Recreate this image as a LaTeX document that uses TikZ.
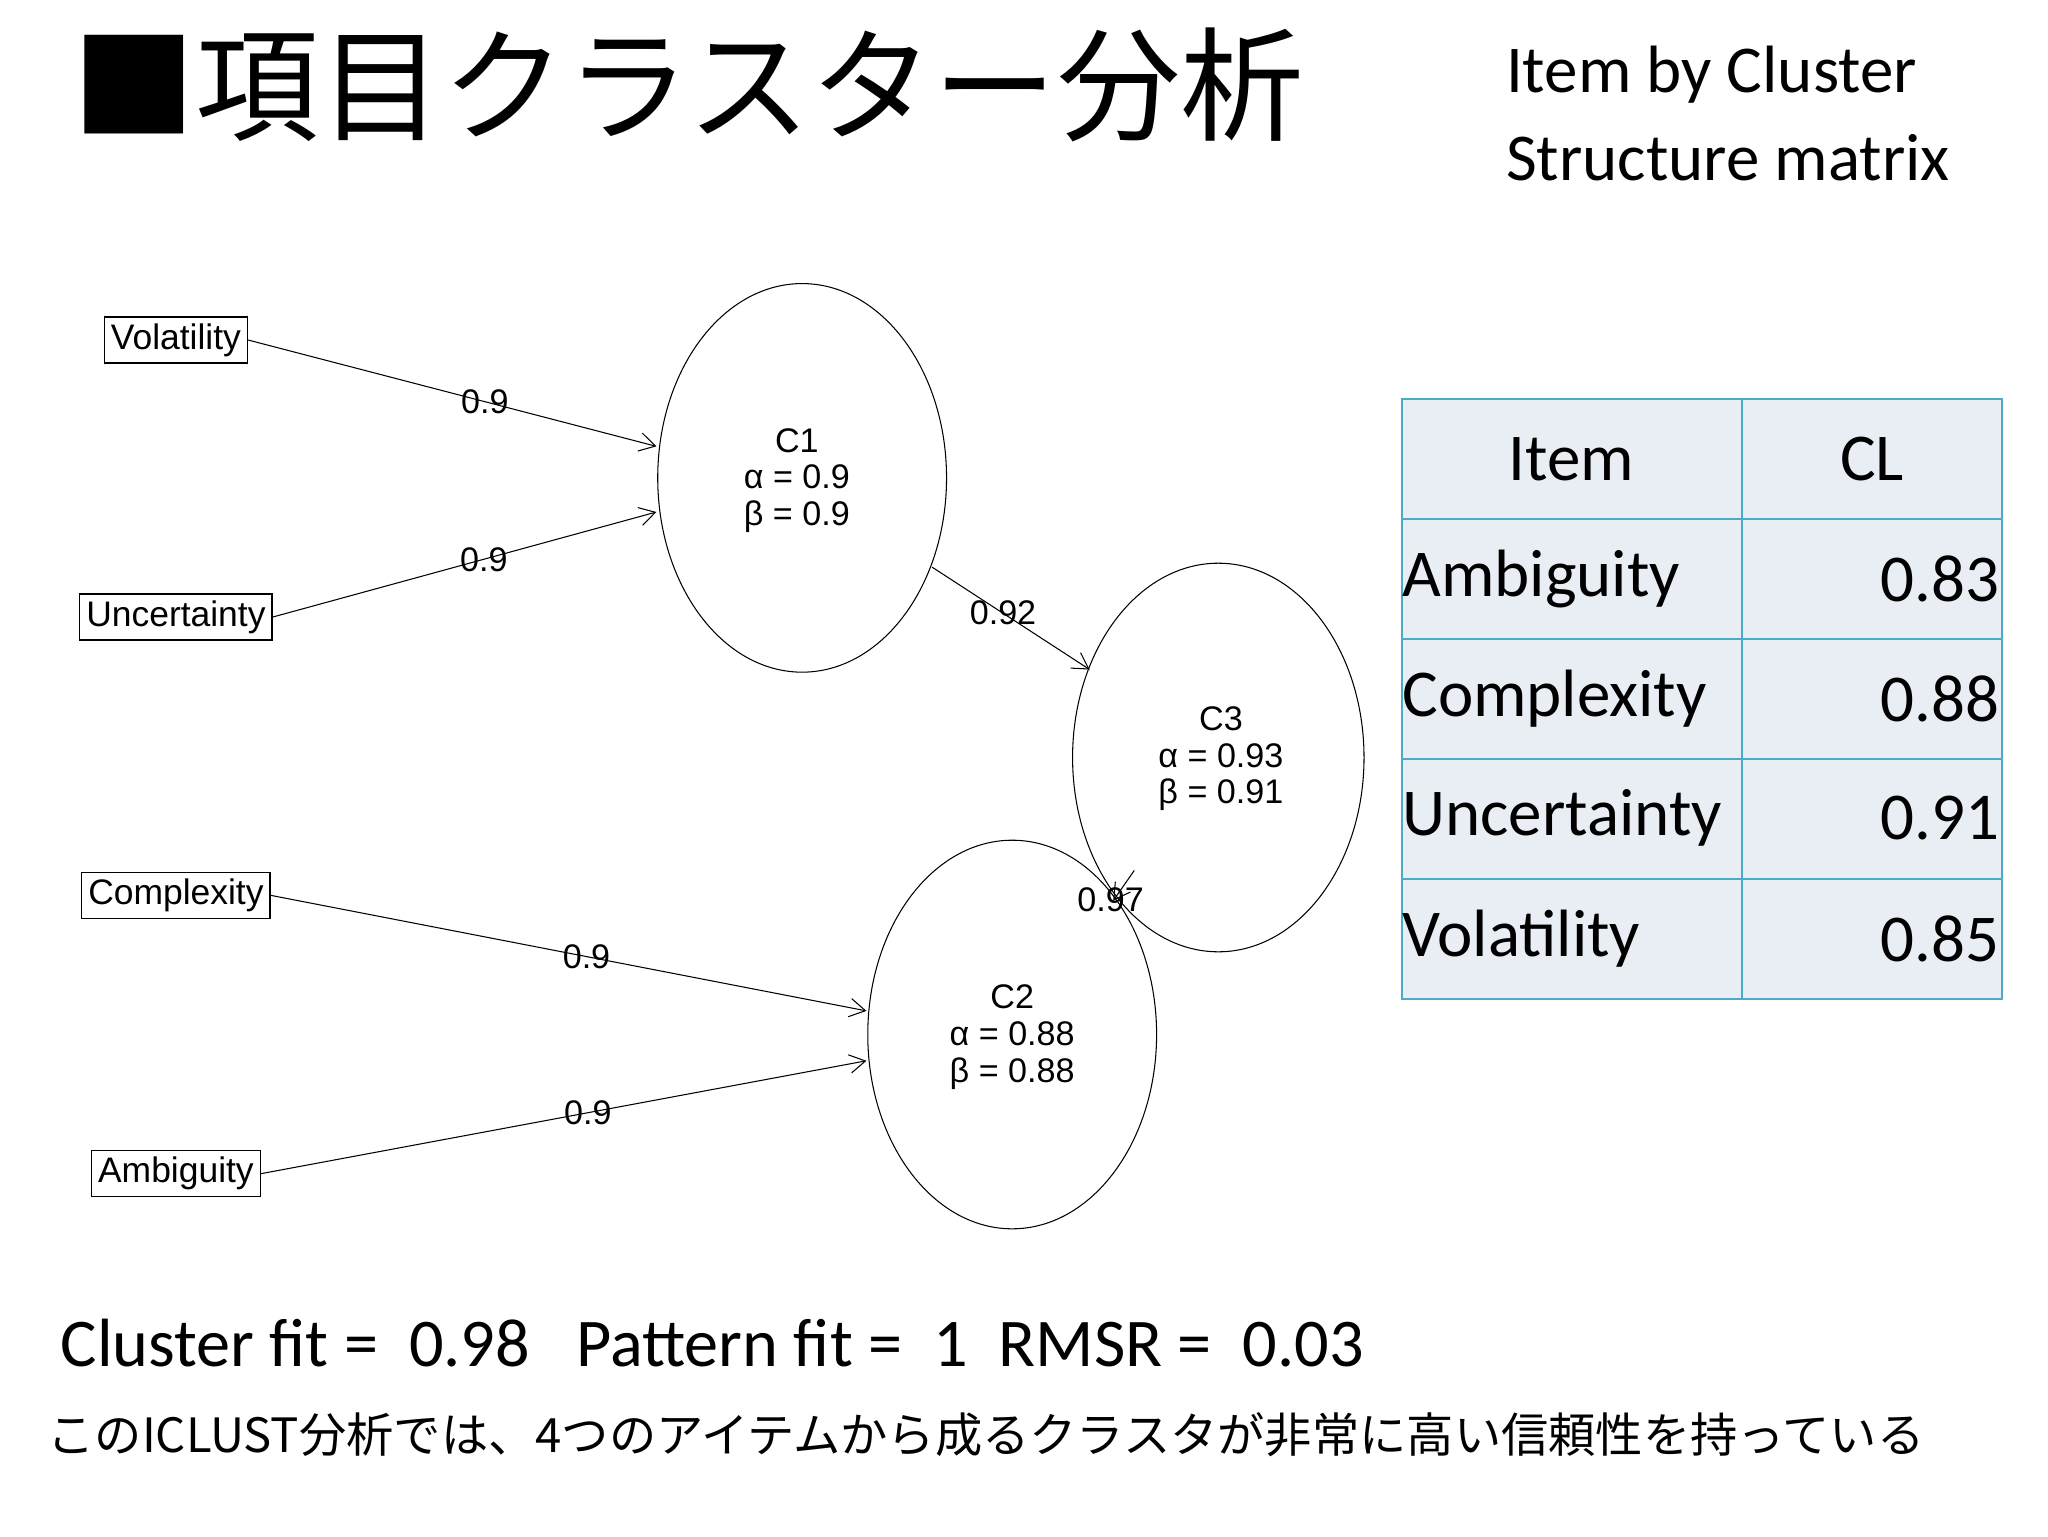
\documentclass[tikz,border=0pt]{standalone}
\usepackage{fontspec}
\setmainfont{Liberation Sans}
\newfontfamily\cjk{Noto Sans CJK JP}
\newfontfamily\calfont{Carlito}
\usetikzlibrary{arrows.meta}
\definecolor{cellfill}{RGB}{232,238,243}
\definecolor{cellline}{RGB}{75,172,198}
\begin{document}
\begin{tikzpicture}[x=1pt,y=-1pt,
  item/.style={draw,line width=1pt,font=\fontsize{27}{30}\selectfont,inner sep=5pt},
  arr/.style={-{Straight Barb[length=12pt,width=14pt]},line width=0.8pt},
  lab/.style={font=\fontsize{26}{28}\selectfont,inner sep=1pt},
  cell/.style={draw=cellline,line width=1.5pt,fill=cellfill}]
\useasboundingbox (0,0) rectangle (1560,1170);
\fill[white] (0,0) rectangle (1560,1170);
\node[anchor=west,font=\cjk\fontsize{94}{98}\selectfont,inner sep=0] (title) at (55,65) {■項目クラスター分析};
\node[anchor=west,font=\calfont\fontsize{51}{55}\selectfont,inner sep=0] (t1) at (1147,57) {Item by Cluster};
\node[anchor=west,font=\calfont\fontsize{51}{55}\selectfont,inner sep=0] (t2) at (1147,120) {Structure matrix};
% items
\node[item] (vol) at (134,259) {Volatility};
\node[item] (unc) at (134,470) {Uncertainty};
\node[item] (com) at (134,682) {Complexity};
\node[item] (amb) at (134,894) {Ambiguity};
% clusters
\draw[line width=0.8pt] (611,364) ellipse (110 and 148);
\draw[line width=0.8pt] (928,577) ellipse (111 and 148);
\draw[line width=0.8pt] (771,788) ellipse (110 and 148);
\coordinate (c1a) at (500,340); \coordinate (c1b) at (500,390);
\coordinate (c1o) at (710,432); \coordinate (c3a) at (830,510);
\coordinate (c3o) at (864,663); \coordinate (c2t) at (848,686);
\coordinate (c2a) at (660,770); \coordinate (c2b) at (660,808);
\node[lab,align=center] (n1) at (607,366) {C1\\[0pt]α = 0.9\\[0pt]β = 0.9};
\node[lab,align=center] (n3) at (930,578) {C3\\[0pt]α = 0.93\\[0pt]β = 0.91};
\node[lab,align=center] (n2) at (771,790) {C2\\[0pt]α = 0.88\\[0pt]β = 0.88};
\draw[arr] (vol.east) -- (c1a) node[lab,pos=0.58] {0.9};
\draw[arr] (unc.east) -- (c1b) node[lab,pos=0.55] {0.9};
\draw[arr] (c1o) -- (c3a) node[lab,pos=0.45] {0.92};
\draw[arr] (c3o) -- (c2t);
\node[lab] (l97) at (846,685) {0.97};
\draw[arr] (com.east) -- (c2a) node[lab,pos=0.53] {0.9};
\draw[arr] (amb.east) -- (c2b) node[lab,pos=0.54] {0.9};
% table
\foreach \i in {0,...,4}{
  \pgfmathsetmacro\yt{304+91.4*\i}
  \draw[cell] (1068,\yt) rectangle (1327,\yt+91.4);
  \draw[cell] (1327,\yt) rectangle (1525,\yt+91.4);
}
\begin{scope}[every node/.style={font=\calfont\fontsize{51}{55}\selectfont,inner sep=2pt}]
\node (h1) at (1197,350) {Item};
\node (h2) at (1426,350) {CL};
\node[anchor=west] (r1) at (1066,441) {Ambiguity};
\node[anchor=east] (v1) at (1525,441) {0.83};
\node[anchor=west] (r2) at (1066,532) {Complexity};
\node[anchor=east] (v2) at (1525,532) {0.88};
\node[anchor=west] (r3) at (1066,623) {Uncertainty};
\node[anchor=east] (v3) at (1525,623) {0.91};
\node[anchor=west] (r4) at (1066,715) {Volatility};
\node[anchor=east] (v4) at (1525,715) {0.85};
\end{scope}
\node[anchor=west,font=\calfont\fontsize{52}{56}\selectfont,inner sep=0] (fit) at (46,1023) {Cluster fit =\ \ 0.98\ \ \ Pattern fit =\ \ 1\ \ RMSR =\ \ 0.03};
\node[anchor=west,font=\cjk\fontsize{36}{40}\selectfont,inner sep=0] (jp) at (36,1093) {このICLUST分析では、4つのアイテムから成るクラスタが非常に高い信頼性を持っている};
\end{tikzpicture}
\end{document}
